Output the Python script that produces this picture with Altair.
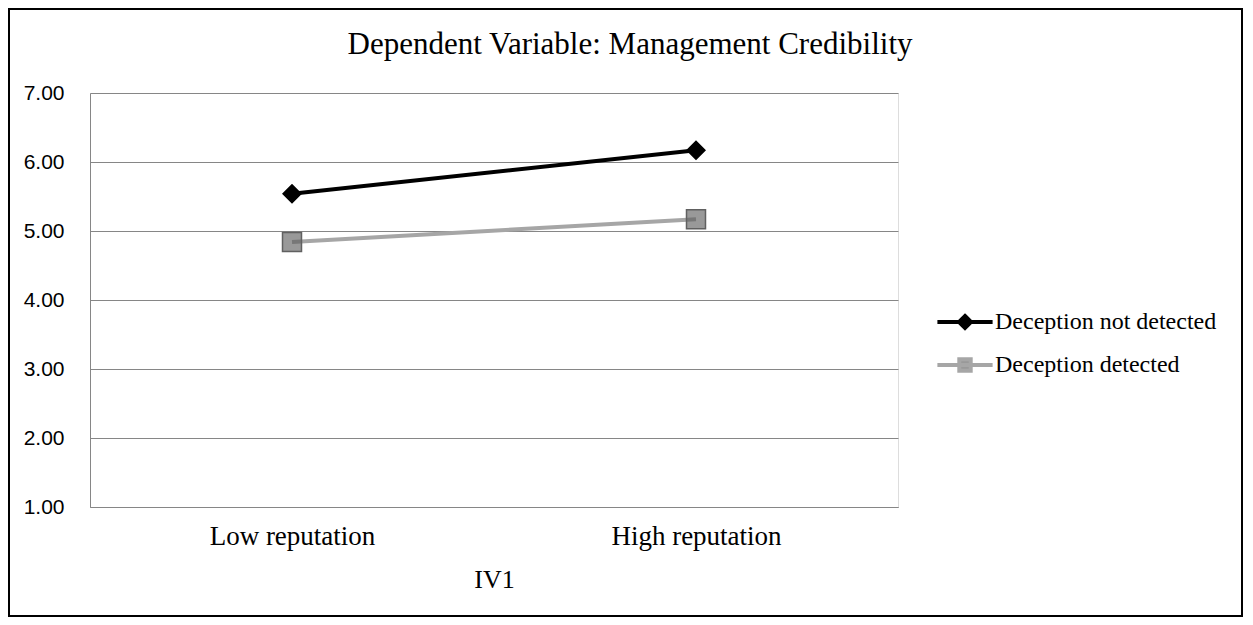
import altair as alt
import pandas as pd

categories = ["Low reputation", "High reputation"]
series_names = ["Deception not detected", "Deception detected"]
not_detected = [5.54, 6.17]
detected = [4.84, 5.17]
y_ticks = [1, 2, 3, 4, 5, 6, 7]
title_text = "Dependent Variable:  Management Credibility"

rows = []
for c, v in zip(categories, not_detected):
    rows.append({"IV1": c, "series": series_names[0], "value": v})
for c, v in zip(categories, detected):
    rows.append({"IV1": c, "series": series_names[1], "value": v})
df = pd.DataFrame(rows)

diamond = "M-4.6,0L4.6,0M0,-1L1,0L0,1L-1,0Z"
square = "M-4.6,0L4.6,0M-0.95,-0.95L0.95,-0.95L0.95,0.95L-0.95,0.95Z"

SERIF = "Liberation Serif"
SANS = "Liberation Sans"
GRID = "#868686"

x = alt.X(
    "IV1:N",
    sort=categories,
    scale=alt.Scale(type="point", padding=0.5),
    axis=alt.Axis(
        title="IV1", labelAngle=0, ticks=False, tickSize=0, grid=False,
        labelFont=SERIF, labelFontSize=27, labelColor="black", labelPadding=16,
        titleFont=SERIF, titleFontSize=26, titleFontWeight="normal", titleColor="black",
        titlePadding=17, domainColor=GRID, domainWidth=1,
    ),
)
y = alt.Y(
    "value:Q",
    scale=alt.Scale(domain=[1, 7], nice=False, zero=False),
    axis=alt.Axis(
        values=y_ticks, format=".2f", title=None, ticks=False, tickSize=0,
        labelPadding=26, labelFont=SANS, labelFontSize=21, labelColor="black",
        gridColor=GRID, gridWidth=1, domainColor=GRID, domainWidth=1,
    ),
)

leg = alt.Legend(
    title=None, orient="none", legendX=863, legendY=217, padding=0,
    labelFont=SERIF, labelFontSize=24, labelColor="black", labelOffset=18,
    labelLimit=0, symbolSize=144, symbolStrokeWidth=4, rowPadding=15,
)

base = alt.Chart(df)

line_a = base.transform_filter(alt.datum.series == series_names[0]).mark_line(
    strokeWidth=4, color="#000000").encode(x=x, y=y)
line_b = base.transform_filter(alt.datum.series == series_names[1]).mark_line(
    strokeWidth=4, color="#a6a6a6").encode(x=x, y=y)

points = base.mark_point(filled=True, size=400, opacity=1, strokeWidth=0).encode(
    x=x, y=y,
    fill=alt.Fill("series:N", sort=series_names,
                  scale=alt.Scale(domain=series_names, range=["#000000", "rgba(90,90,90,0.62)"]),
                  legend=leg),
    stroke=alt.Stroke("series:N", sort=series_names,
                      scale=alt.Scale(domain=series_names, range=["#000000", "#a6a6a6"]),
                      legend=leg),
    shape=alt.Shape("series:N", sort=series_names,
                    scale=alt.Scale(domain=series_names, range=[diamond, square]),
                    legend=leg),
)

outline = base.transform_filter(
    alt.datum.series == series_names[1]
).mark_point(shape="square", filled=False, size=361, stroke="#606060",
             strokeWidth=1.5, opacity=1).encode(x=x, y=y)

blank = alt.Data(values=[{}])

frame = alt.Chart(blank).mark_rect(
    fill="transparent", stroke="black", strokeWidth=2
).encode(x=alt.value(-81), x2=alt.value(1152), y=alt.value(-84), y2=alt.value(523))

title = alt.Chart(blank).mark_text(
    text=title_text, font=SERIF, fontSize=31, color="black",
    align="center", baseline="middle",
).encode(x=alt.value(540), y=alt.value(-48))

chart = alt.layer(frame, title, line_a, line_b, points, outline).properties(
    width=808, height=414,
    padding={"left": 0, "top": 0, "right": 0, "bottom": 0},
).configure_view(stroke=None).configure(background="white")

chart.save("out.html", embed_options={"renderer": "svg", "actions": False})
